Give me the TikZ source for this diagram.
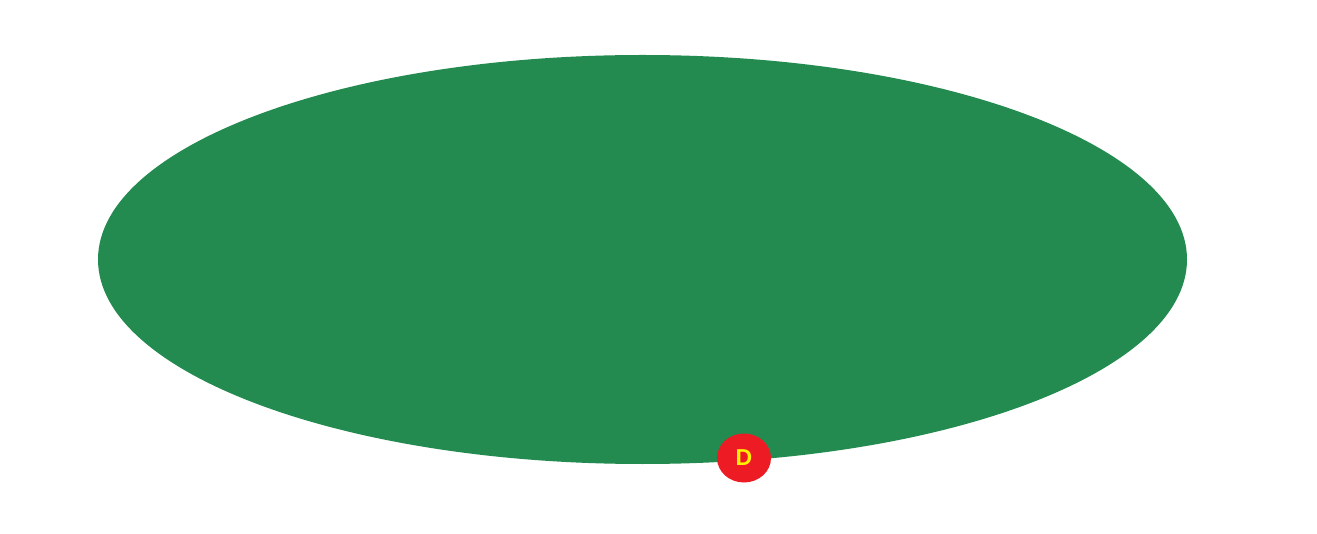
\documentclass[tikz,border=0pt]{standalone}
\usepackage{fontspec}
\setmainfont{Liberation Sans}
\usetikzlibrary{shapes.geometric}
\definecolor{fieldgreen}{RGB}{35,139,79}
\definecolor{markred}{RGB}{237,28,36}
\definecolor{markyellow}{RGB}{255,242,0}
\tikzset{
  field/.style={ellipse, fill=fieldgreen, draw=none, minimum width=1089pt, minimum height=409pt, inner sep=0pt},
  marker/.style={ellipse, fill=markred, draw=none, minimum width=54pt, minimum height=49pt, inner sep=0pt, text=markyellow, font=\bfseries\fontsize{23pt}{25pt}\selectfont}
}
\begin{document}
\begin{tikzpicture}[x=1pt,y=-1pt]
\useasboundingbox (0,0) rectangle (1317,534);
\node[field] (field) at (642.5,259.5) {};
\node[marker] (d) at (744,458) {D};
\end{tikzpicture}
\end{document}
